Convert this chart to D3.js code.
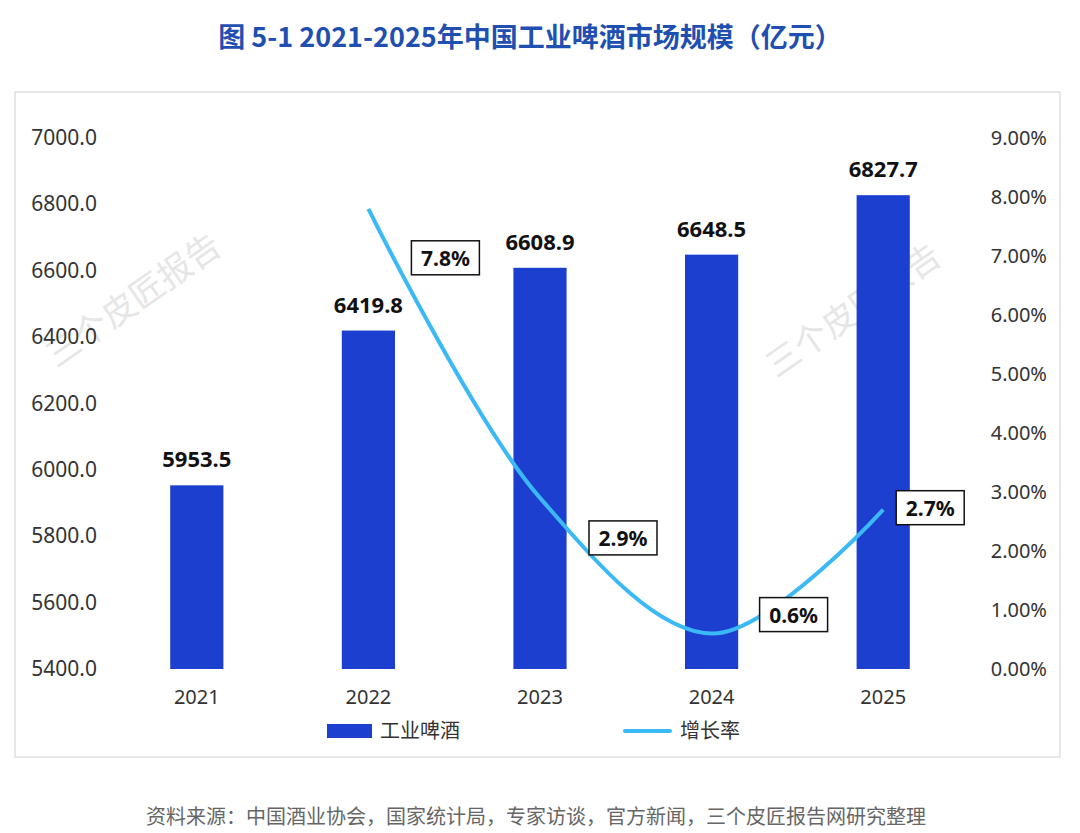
<!DOCTYPE html>
<html><head><meta charset="utf-8">
<script src="https://cdn.jsdelivr.net/npm/d3@7"></script>
<style>body{margin:0;background:#fff;font-family:"Noto Sans CJK SC","Noto Sans",sans-serif}</style>
</head><body>
<svg id="c" width="1080" height="833"></svg>
<script>
var years = ["2021", "2022", "2023", "2024", "2025"];
var scale = [5953.5, 6419.8, 6608.9, 6648.5, 6827.7];
var growth = [null, 7.8, 2.9, 0.6, 2.7];
var leftTicks = [5400, 5600, 5800, 6000, 6200, 6400, 6600, 6800, 7000];
var rightTicks = [0, 1, 2, 3, 4, 5, 6, 7, 8, 9];

var svg = d3.select("#c");

svg.append("text").attr("x", 530).attr("y", 47).attr("text-anchor", "middle")
    .attr("font-size", 27).attr("font-weight", "bold").attr("fill", "#1f4fb0")
    .text("图  5-1 2021-2025年中国工业啤酒市场规模（亿元）");

svg.append("rect").attr("x", 15).attr("y", 92).attr("width", 1045).attr("height", 665)
    .attr("fill", "none").attr("stroke", "#d0d0d0");

var x = d3.scaleBand().domain(years).range([111, 969]).paddingInner(0.69).paddingOuter(0.345);
var y = d3.scaleLinear().domain([5400, 7000]).range([669, 138]);
var y2 = d3.scaleLinear().domain([0, 9]).range([669, 138]);

// watermarks
[[140, 310], [860, 320]].forEach(function (p) {
    svg.append("text").attr("transform", "translate(" + p[0] + "," + p[1] + ") rotate(-35)")
        .attr("text-anchor", "middle").attr("font-size", 34).attr("fill", "#e6e6e6")
        .text("三个皮匠报告");
});

svg.append("g").selectAll("text").data(leftTicks).enter().append("text")
    .attr("x", 97).attr("y", function (d) { return y(d) + 7; }).attr("text-anchor", "end")
    .attr("font-size", 21).attr("fill", "#333").attr("font-family", "Noto Sans")
    .text(function (d) { return d.toFixed(1); });

svg.append("g").selectAll("text").data(rightTicks).enter().append("text")
    .attr("x", 1047).attr("y", function (d) { return y2(d) + 7; }).attr("text-anchor", "end")
    .attr("font-size", 20).attr("fill", "#333").attr("font-family", "Noto Sans")
    .text(function (d) { return d.toFixed(2) + "%"; });

svg.append("g").selectAll("rect").data(years).enter().append("rect")
    .attr("x", function (d) { return x(d); }).attr("width", x.bandwidth())
    .attr("y", function (d, i) { return y(scale[i]); })
    .attr("height", function (d, i) { return 669 - y(scale[i]); })
    .attr("fill", "#1c3fcf");

svg.append("g").selectAll("text").data(years).enter().append("text")
    .attr("x", function (d) { return x(d) + x.bandwidth() / 2; })
    .attr("y", function (d, i) { return y(scale[i]) - 18; })
    .attr("text-anchor", "middle").attr("font-size", 22).attr("font-weight", "bold")
    .attr("font-family", "Noto Sans").attr("fill", "#111")
    .text(function (d, i) { return scale[i].toFixed(1); });

svg.append("g").selectAll("text").data(years).enter().append("text")
    .attr("x", function (d) { return x(d) + x.bandwidth() / 2; }).attr("y", 704)
    .attr("text-anchor", "middle").attr("font-size", 20).attr("font-family", "Noto Sans")
    .attr("fill", "#333").text(function (d) { return d; });

var pts = years.map(function (d, i) { return [x(d) + x.bandwidth() / 2, growth[i]]; })
    .filter(function (p) { return p[1] != null; });
var line = d3.line().x(function (p) { return p[0]; }).y(function (p) { return y2(p[1]); })
    .curve(d3.curveCatmullRom.alpha(0.5));
svg.append("path").datum(pts).attr("d", line).attr("fill", "none")
    .attr("stroke", "#3bb9f7").attr("stroke-width", 4);

var offs = [null, [77, 49], [83, 40], [82, -19], [47, -2]];
pts.forEach(function (p, k) {
    var i = k + 1, o = offs[i];
    var g = svg.append("g").attr("transform", "translate(" + (p[0] + o[0]) + "," + (y2(p[1]) + o[1]) + ")");
    g.append("rect").attr("x", -34).attr("y", -17).attr("width", 68).attr("height", 34)
        .attr("fill", "#fff").attr("stroke", "#111").attr("stroke-width", 1.5);
    g.append("text").attr("y", 8).attr("text-anchor", "middle").attr("font-size", 21)
        .attr("font-weight", "bold").attr("font-family", "Noto Sans").attr("fill", "#111")
        .text(p[1].toFixed(1) + "%");
});

svg.append("rect").attr("x", 327).attr("y", 724).attr("width", 45).attr("height", 14).attr("fill", "#1c3fcf");
svg.append("text").attr("x", 380).attr("y", 738).attr("font-size", 20).attr("fill", "#333").text("工业啤酒");
svg.append("line").attr("x1", 625).attr("x2", 670).attr("y1", 731).attr("y2", 731)
    .attr("stroke", "#3bb9f7").attr("stroke-width", 4).attr("stroke-linecap", "round");
svg.append("text").attr("x", 680).attr("y", 738).attr("font-size", 20).attr("fill", "#333").text("增长率");

svg.append("text").attr("x", 536).attr("y", 824).attr("text-anchor", "middle").attr("font-size", 20)
    .attr("fill", "#666").text("资料来源：中国酒业协会，国家统计局，专家访谈，官方新闻，三个皮匠报告网研究整理");
</script>
</body></html>
